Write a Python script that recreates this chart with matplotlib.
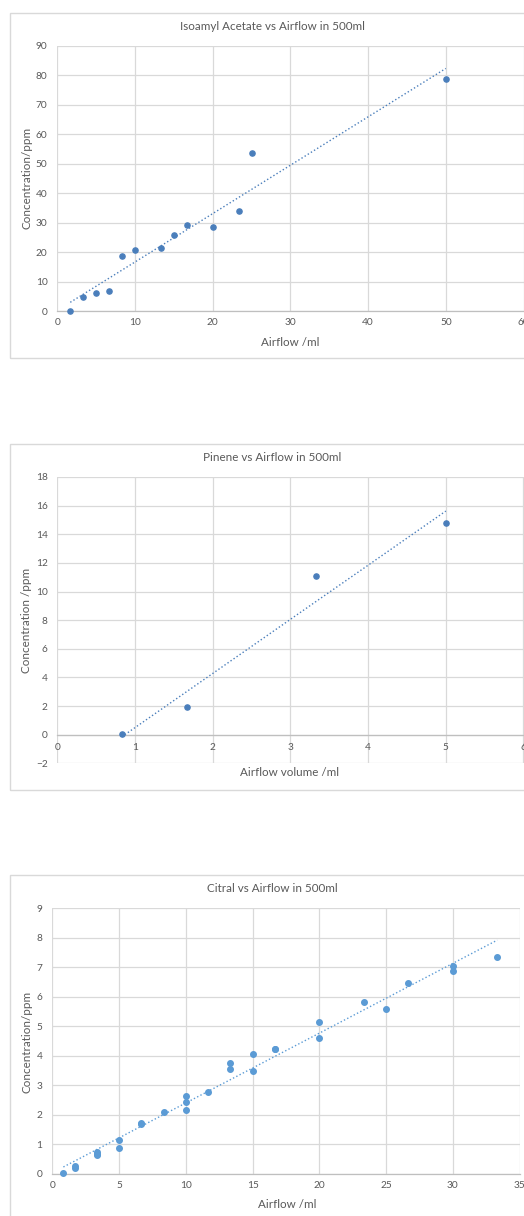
import numpy as np
import matplotlib
matplotlib.use("Agg")
import matplotlib.pyplot as plt
from matplotlib.patches import Rectangle

plt.rcParams['font.family'] = ['Lato', 'DejaVu Sans']

# ---------------- data ----------------
iso_x = [1.67, 3.33, 5.0, 6.67, 8.33, 10.0, 13.33, 15.0, 16.67, 20.0, 23.33, 25.0, 50.0]
iso_y = [0.0, 5.0, 6.2, 7.0, 18.8, 20.8, 21.3, 25.8, 29.2, 28.7, 34.1, 53.5, 78.8]

pin_x = [0.83, 1.67, 3.33, 5.0]
pin_y = [0.05, 1.9, 11.05, 14.8]

cit_x = [0.83, 1.67, 1.67, 3.33, 3.33, 3.33, 5.0, 5.0, 6.67, 6.67, 8.33,
         10.0, 10.0, 10.0, 11.67, 13.33, 13.33, 15.0, 15.0, 16.67, 16.67,
         20.0, 20.0, 23.33, 25.0, 26.67, 30.0, 30.0, 33.33]
cit_y = [0.01, 0.27, 0.21, 0.74, 0.68, 0.62, 1.15, 0.87, 1.73, 1.67, 2.09,
         2.63, 2.43, 2.15, 2.76, 3.75, 3.53, 4.07, 3.49, 4.21, 4.23,
         5.13, 4.61, 5.83, 5.57, 6.45, 7.05, 6.87, 7.35]

W, H = 524, 1216
fig = plt.figure(figsize=(W / 100, H / 100), dpi=100)
fig.patch.set_facecolor('white')

TXT = '#595959'
GRID = '#D9D9D9'


def box(x0, y0, x1, y1):
    r = Rectangle((x0 / W, 1 - y1 / H), (x1 - x0) / W, (y1 - y0) / H,
                  transform=fig.transFigure, fill=False, edgecolor='#D9D9D9', lw=1.0)
    fig.patches.append(r)


def make_ax(l, r, t, b):
    return fig.add_axes([l / W, 1 - b / H, (r - l) / W, (b - t) / H])


def style(ax, xlim, ylim, xticks, yticks):
    ax.set_xlim(*xlim)
    ax.set_ylim(*ylim)
    ax.set_xticks(xticks)
    ax.set_yticks(yticks)
    ax.grid(True, color=GRID, lw=0.9)
    ax.set_axisbelow(True)
    for s in ['top', 'right', 'left']:
        ax.spines[s].set_visible(False)
    ax.spines['bottom'].set_color('#BFBFBF')
    ax.spines['bottom'].set_linewidth(0.9)
    ax.tick_params(length=0, labelsize=7.3, colors=TXT)
    ax.tick_params(axis='x', pad=5)
    ax.tick_params(axis='y', pad=7)
    ax.patch.set_alpha(0)


def trend(ax, x, y, color):
    m, c = np.polyfit(x, y, 1)
    xs = np.array([min(x), max(x)])
    ax.plot(xs, m * xs + c, ls=':', color=color, lw=1.0, zorder=2)


def label(x, y, s, rot=0, size=8.4):
    fig.text(x / W, 1 - y / H, s, ha='center', va='center', fontsize=size,
             color=TXT, rotation=rot)


# ---- Chart 1 ----
box(9.5, 13, 530, 358)
c1 = '#4A7EBB'
ax1 = make_ax(57.3, 523.5, 45.7, 311.3)
style(ax1, (0, 60), (0, 90), range(0, 61, 10), range(0, 91, 10))
ax1.scatter(iso_x, iso_y, s=14, color=c1, zorder=3, clip_on=False)
trend(ax1, iso_x, iso_y, c1)
label(272, 27, 'Isoamyl Acetate vs Airflow in 500ml')
label(290, 342, 'Airflow /ml')
label(27, 178, 'Concentration/ppm', rot=90)

# ---- Chart 2 ----
box(9.5, 444.3, 530, 790)
ax2 = make_ax(57.3, 523.5, 477, 763.3)
style(ax2, (0, 6), (-2, 18), range(0, 7), range(-2, 19, 2))
ax2.spines['bottom'].set_position(('data', 0))
ax2.tick_params(axis='x', pad=6)
ax2.scatter(pin_x, pin_y, s=14, color=c1, zorder=3, clip_on=False)
trend(ax2, pin_x, pin_y, c1)
label(272, 457.7, 'Pinene vs Airflow in 500ml')
label(290, 773, 'Airflow volume /ml')
label(27, 620, 'Concentration /ppm', rot=90)

# ---- Chart 3 ----
box(9.5, 875, 530, 1220)
c3 = '#5B9BD5'
ax3 = make_ax(52.3, 519.6, 908, 1173.7)
style(ax3, (0, 35), (0, 9), range(0, 36, 5), range(0, 10))
ax3.scatter(cit_x, cit_y, s=16, color=c3, zorder=3, clip_on=False)
trend(ax3, cit_x, cit_y, c3)
label(272, 889, 'Citral vs Airflow in 500ml')
label(287, 1205, 'Airflow /ml')
label(27, 1042, 'Concentration/ppm', rot=90)

fig.savefig('out.png', dpi=100)
